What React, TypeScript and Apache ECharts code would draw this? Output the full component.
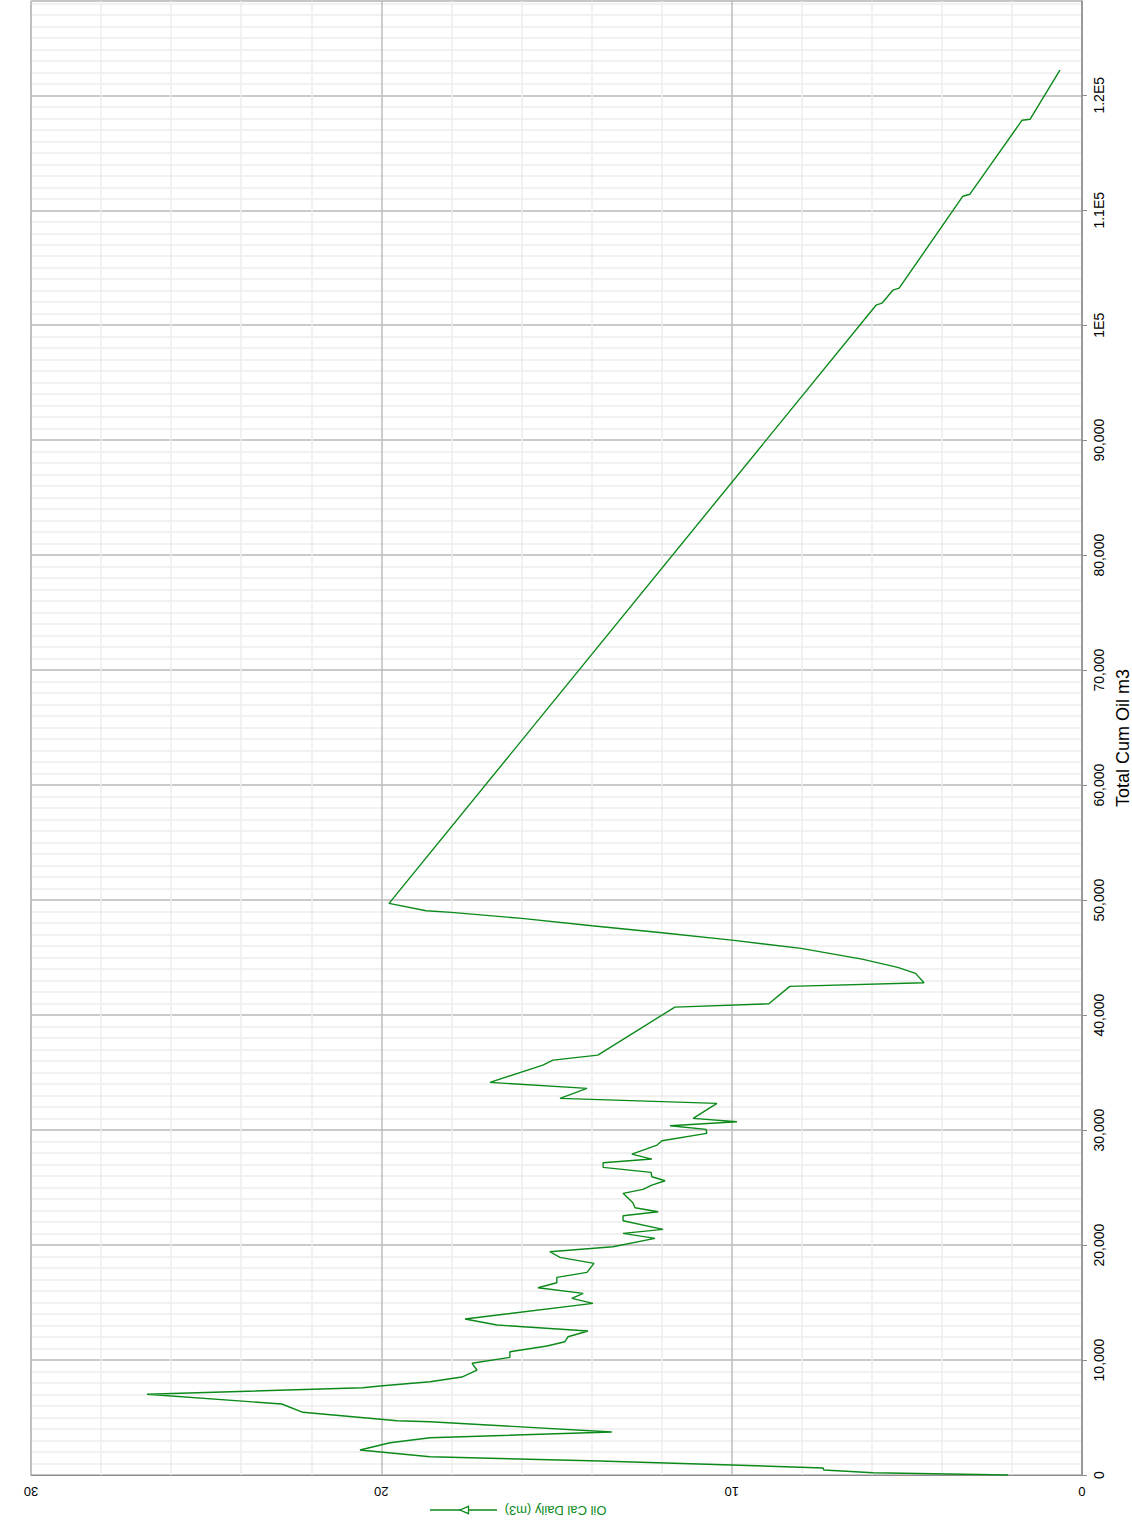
import React, { useEffect, useRef } from "react";
import * as echarts from "echarts";

// Oil Cal Daily (m3) values, in order of production
const oilDaily = [
  2.11, 5.97, 7.37, 7.39, 10.0, 13.76, 18.61, 20.61, 19.75, 18.61,
  13.42, 18.61, 19.55, 22.24, 22.84, 26.69, 20.53, 20.04, 18.61, 17.7,
  17.27, 17.41, 16.33, 16.33, 15.27, 14.76, 14.67, 14.1, 16.7, 17.61,
  13.96, 14.56, 14.24, 15.53, 14.99, 14.99, 14.13, 13.93, 14.9, 15.19,
  13.39, 12.19, 13.1, 11.96, 13.1, 13.1, 12.1, 12.76, 12.82, 13.1,
  12.53, 12.28, 11.9, 12.28, 12.3, 13.67, 13.67, 12.28, 12.85, 12.47,
  12.13, 11.99, 10.71, 10.73, 11.76, 9.85, 11.1, 10.42, 14.9, 14.13,
  16.9, 15.39, 15.1, 13.82, 11.62, 8.94, 8.34, 4.51, 4.75, 5.26,
  6.28, 8.02, 10.0, 11.99, 13.99, 15.99, 18.0, 18.72, 19.78, 5.88,
  5.71, 5.4, 5.22, 3.4, 3.2, 1.71, 1.48, 0.63,
];

// Total Cum Oil m3 values matching oilDaily
const cumOil = [
  0, 200, 435, 609, 870, 1217, 1591, 2174, 2809, 3244,
  3739, 4635, 4722, 5452, 6174, 7018, 7592, 7739, 8113, 8522,
  9131, 9714, 10235, 10722, 11218, 11592, 12027, 12522, 13044, 13566,
  14931, 15366, 15801, 16288, 16723, 17192, 17627, 18410, 18931, 19418,
  19853, 20584, 21018, 21366, 22114, 22549, 22897, 23245, 23679, 24497,
  24845, 25218, 25593, 25940, 26323, 26758, 27158, 27479, 27914, 28323,
  28697, 29071, 29715, 30063, 30375, 30723, 31019, 32324, 32758, 33628,
  34149, 35654, 36088, 36523, 40697, 40985, 42498, 42811, 43628, 44150,
  44871, 45802, 46524, 47159, 47768, 48411, 48933, 49072, 49716, 101743,
  101917, 103048, 103222, 111222, 111396, 117831, 117918, 122179,
];

const dailyTicks = [0, 10, 20, 30];
const cumMax = 128200;

const GREEN = "#0b8a1a";
const FONT = '"Liberation Sans", Arial, sans-serif';

function cumLabel(v: number): string {
  if (v >= 100000) {
    const m = v / 100000;
    return (Number.isInteger(m) ? String(m) : m.toFixed(1)) + "E5";
  }
  return v.toLocaleString("en-US");
}

export default function App() {
  const ref = useRef<HTMLDivElement>(null);

  useEffect(() => {
    if (!ref.current) return;
    const chart = echarts.init(ref.current, null, { renderer: "svg" });
    const data = oilDaily.map((d, i) => [d, cumOil[i]]);
    chart.setOption({
      animation: false,
      backgroundColor: "#ffffff",
      grid: {
        left: 31,
        right: 50,
        top: 1,
        bottom: 51,
        outerBoundsMode: "none",
        containLabel: false,
        show: true,
        borderColor: "#8c8c8c",
        borderWidth: 1,
        backgroundColor: "transparent",
      },
      xAxis: {
        type: "value",
        inverse: true,
        min: dailyTicks[0],
        max: dailyTicks[dailyTicks.length - 1],
        interval: 10,
        position: "bottom",
        axisLine: { show: true, lineStyle: { color: "#8c8c8c", width: 1 } },
        axisTick: { show: false },
        axisLabel: {
          rotate: 180,
          margin: 10,
          color: "#000",
          fontFamily: FONT,
          fontSize: 13,
        },
        splitLine: { show: true, lineStyle: { color: "#bdbdbd", width: 1.5 } },
        minorTick: { show: false, splitNumber: 5 },
        minorSplitLine: { show: true, lineStyle: { color: "#ececec", width: 1.5 } },
      },
      yAxis: [
        {
          type: "value",
          position: "right",
          min: 0,
          max: cumMax,
          interval: 1000,
          axisLine: { show: false },
          axisTick: { show: false },
          axisLabel: { show: false },
          splitLine: { show: true, lineStyle: { color: "#ececec", width: 1.5 } },
        },
        {
          type: "value",
          position: "right",
          min: 0,
          max: cumMax,
          interval: 10000,
          name: "Total Cum Oil m3",
          nameLocation: "middle",
          nameRotate: 90,
          nameGap: 23,
          nameTextStyle: { color: "#000", fontFamily: FONT, fontSize: 18 },
          axisLine: { show: true, lineStyle: { color: "#8c8c8c", width: 1.5 } },
          axisTick: { show: true, length: 5, lineStyle: { color: "#8c8c8c" } },
          axisLabel: {
            rotate: 90,
            margin: 10,
            showMaxLabel: false,
            color: "#000",
            fontFamily: FONT,
            fontSize: 14,
            formatter: (v: number) => cumLabel(v),
          },
          splitLine: { show: true, lineStyle: { color: "#bdbdbd", width: 1.5 } },
        },
      ],
      series: [
        {
          type: "line",
          name: "Oil Cal Daily (m3)",
          xAxisIndex: 0,
          yAxisIndex: 1,
          data,
          showSymbol: false,
          symbol: "none",
          lineStyle: { color: GREEN, width: 1.4 },
          itemStyle: { color: GREEN },
        },
      ],
      graphic: [
        {
          type: "line",
          shape: { x1: 430, y1: 1510, x2: 497, y2: 1510 },
          style: { stroke: GREEN, lineWidth: 1.4 },
        },
        {
          type: "polygon",
          shape: { points: [[460, 1510], [468.5, 1506.3], [468.5, 1513.7]] },
          style: { fill: "#ffffff", stroke: GREEN, lineWidth: 1.3 },
        },
        {
          type: "text",
          x: 555.5,
          y: 1510,
          rotation: Math.PI,
          style: {
            text: "Oil Cal Daily (m3)",
            fill: GREEN,
            font: '13px "Liberation Sans", Arial, sans-serif',
            align: "center",
            verticalAlign: "middle",
            textAlign: "center",
            textVerticalAlign: "middle",
          },
        },
      ],
    });
    return () => chart.dispose();
  }, []);

  return (
    <div
      ref={ref}
      style={{ position: "absolute", left: 0, top: 0, width: 1132, height: 1526 }}
    />
  );
}
